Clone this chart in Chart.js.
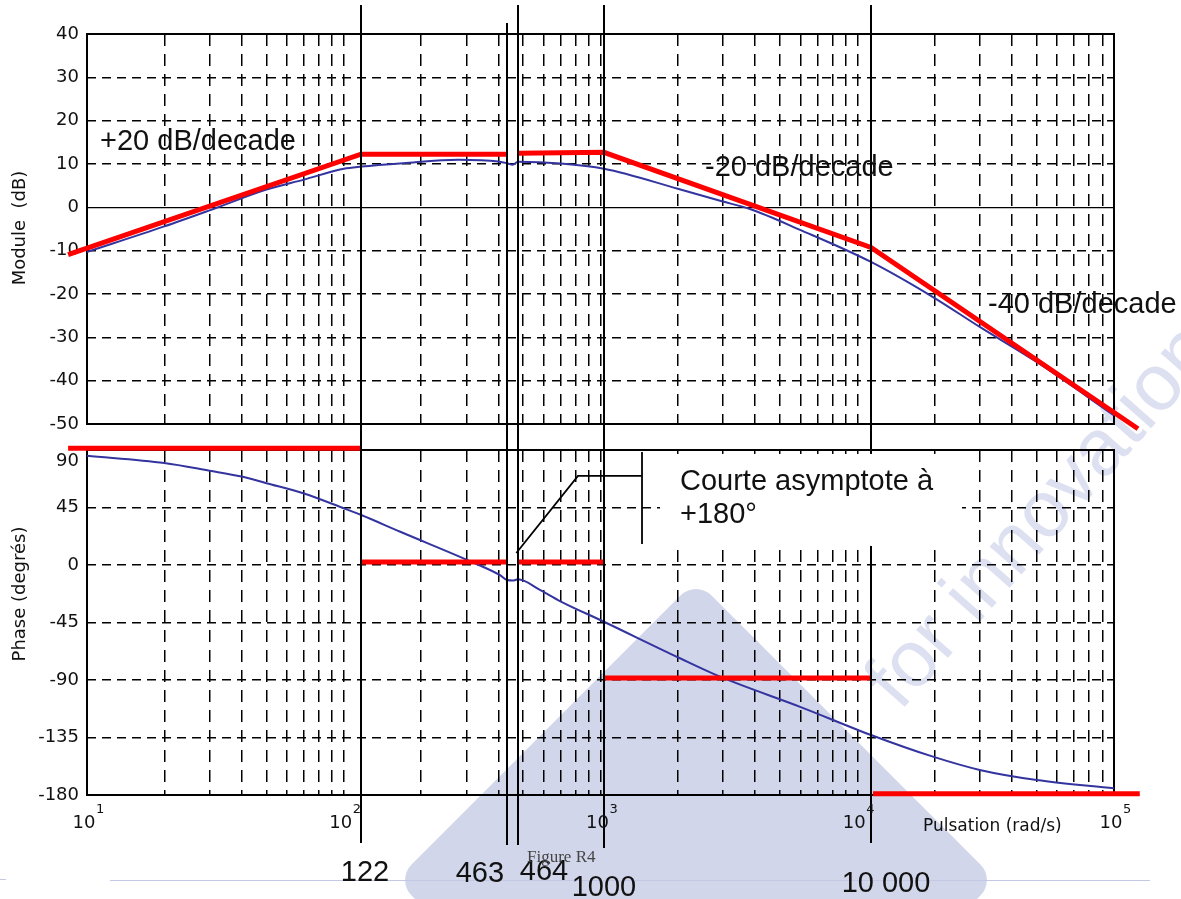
<!DOCTYPE html>
<html><head><meta charset="utf-8">
<script src="https://cdn.jsdelivr.net/npm/chart.js@4.4.1/dist/chart.umd.min.js"></script>
<style>
html,body{margin:0;padding:0;background:#fff;}
#wrap{position:relative;width:1181px;height:899px;overflow:hidden;background:#fff}
canvas{position:absolute;left:0;top:0}
</style>
</head><body>
<div id="wrap">
<canvas id="bg" width="1181" height="899"></canvas>
<canvas id="mag" width="1181" height="899"></canvas>
<canvas id="phase" width="1181" height="899"></canvas>
</div>
<script>
// ---------------- DATA ----------------
const magFreq = [10,20,30,50,70,100,117,170,280,400,432,455,477,700,1031,2000,2970,3820,5990,11310,19720,30000,50000,100000];
const magDb   = [-10.3,-4.4,-0.7,4.1,6.4,8.9,9.4,10.2,11.0,10.6,10.2,9.8,10.5,10.1,8.9,4.3,1.4,-0.4,-5.2,-12.6,-20.7,-27.6,-35.7,-48];

// Asymptotic magnitude (red), two pieces
const magAsymFreqA = [8.44, 116.7, 432];
const magAsymDbA   = [-10.9, 12.25, 12.25];
const magAsymFreqB = [477, 1031, 11310, 124000];
const magAsymDbB   = [12.5, 12.7, -9.25, -51.1];

// Real phase curve (blue)
const phaseFreq = [10,20,30,40,50,70,100,117,166,316,406,432,455,477,581,695,1031,2040,2970,5990,11310,19720,30000,50000,100000];
const phaseDeg  = [85.5,79.8,73.8,69.2,64,56,44.4,39.1,26,2.3,-8,-11.8,-12.2,-11.2,-19.5,-28.2,-44.4,-73,-88,-111,-133,-150,-160.4,-168.3,-174.8];

// Asymptotic phase (red), horizontal pieces
const phaseAsymStart = [8.44, 116.7, 477, 1031, 11520];
const phaseAsymEnd   = [116.7, 432, 1031, 11310, 126000];
const phaseAsymLevel = [91.3, 2.3, 2.3, -88.5, -179];

// Marked pulsations (vertical lines) and their labels
const markerFreq  = [116.7, 432, 477, 1031, 11310];
const markerLabel = ['122', '463', '464', '1000', '10 000'];

// Axis ticks
const magTickMin = -50, magTickMax = 40, magTickStep = 10;
const phaseTickMin = -180, phaseTickMax = 90, phaseTickStep = 45;
const decadeValues = [10, 100, 1000, 10000, 100000];
const decadeExpLabels = ['1', '2', '3', '4', '5'];
const gridMultipliers = [1,2,3,4,5,6,7,8,9];

// Texts
const slopeTexts = ['+20 dB/decade', '-20 dB/decade', '-40 dB/decade'];
const noteLines = ['Courte asymptote à', '+180°'];

// ---------------- BUILD ----------------
const gridFreq = [];
decadeValues.slice(0, 4).forEach(d => gridMultipliers.forEach(m => gridFreq.push(m * d)));
gridFreq.push(decadeValues[4]);

const pts = (xs, ys) => xs.map((x, i) => ({x, y: ys[i]}));

// Layout / style constants (pixels)
const AREA_LEFT = 87, AREA_RIGHT = 1114;
const MAG_TOP = 34, MAG_BOTTOM = 424;
const PH_TOP = 450, PH_BOTTOM = 795;
const W = 1181, H = 899;
const BLUE = '#3434a0', RED = '#ff0000';
const TICK_FONT = {family: '"DejaVu Sans", sans-serif', size: 18};
const BIG_FONT = '29px "Liberation Sans", Arial, sans-serif';
const MARKER_STYLE = {
  top:    [5, 23, 5, 5, 5],
  bottom: [843, 845, 845, 848, 843],
  labelDx:[4, -27, 26, 0, 15],
  labelY: [881, 882, 880, 896, 892]
};

function xAxis() {
  return {
    type: 'logarithmic', min: 10, max: 100000,
    afterBuildTicks: s => { s.ticks = gridFreq.map(v => ({value: v})); },
    ticks: {display: false},
    grid: {color: '#000', lineWidth: 1.5, drawTicks: false},
    border: {display: false, dash: [12, 8]},
    afterFit: s => { s.height = 0; }
  };
}

const frame = {
  id: 'frame',
  beforeDatasetsDraw(chart) {
    const {ctx, chartArea: a} = chart;
    ctx.save();
    ctx.strokeStyle = '#000'; ctx.lineWidth = 2;
    ctx.strokeRect(a.left, a.top, a.right - a.left, a.bottom - a.top);
    ctx.restore();
  }
};

function redLine(data) {
  return {data, borderColor: RED, borderWidth: 5, pointRadius: 0, clip: false, borderCapStyle: 'butt', tension: 0};
}

// ---------------- WATERMARK (background) ----------------
(function () {
  const c = document.getElementById('bg').getContext('2d');
  function roundPoly(p, r) {
    c.beginPath();
    const n = p.length;
    const m0 = [(p[n-1][0] + p[0][0]) / 2, (p[n-1][1] + p[0][1]) / 2];
    c.moveTo(m0[0], m0[1]);
    for (let i = 0; i < n; i++) {
      const a = p[i], b = p[(i + 1) % n];
      c.arcTo(a[0], a[1], b[0], b[1], r);
    }
    c.closePath();
  }
  c.fillStyle = '#d2d6ea';
  roundPoly([[696, 580], [996, 880], [696, 1180], [396, 880]], 22);
  c.fill();
  c.save();
  c.translate(900, 712);
  c.rotate(-48.5 * Math.PI / 180);
  c.fillStyle = '#dde0f0';
  c.font = '80px "Liberation Sans", Arial, sans-serif';
  c.fillText('for innovation', 0, 0);
  c.restore();
  // footer rule
  c.strokeStyle = '#c3c9e4'; c.lineWidth = 1;
  c.beginPath(); c.moveTo(110, 880.5); c.lineTo(1150, 880.5); c.stroke();
  c.beginPath(); c.moveTo(0, 879.5); c.lineTo(6, 879.5); c.stroke();
})();

// ---------------- MAGNITUDE CHART ----------------
const magChart = new Chart(document.getElementById('mag'), {
  type: 'line',
  data: {
    datasets: [
      redLine(pts(magAsymFreqA, magAsymDbA)),
      redLine(pts(magAsymFreqB, magAsymDbB)),
      {data: pts(magFreq, magDb), borderColor: BLUE, borderWidth: 2, pointRadius: 0, cubicInterpolationMode: 'monotone'}
    ]
  },
  options: {
    responsive: false, animation: false, devicePixelRatio: 1,
    layout: {padding: {left: 0, top: MAG_TOP, right: W - AREA_RIGHT, bottom: H - MAG_BOTTOM}},
    plugins: {legend: {display: false}, tooltip: {enabled: false}},
    scales: {
      x: xAxis(),
      y: {
        min: magTickMin, max: magTickMax,
        ticks: {stepSize: magTickStep, color: '#111', font: TICK_FONT, padding: 8},
        grid: {color: '#000', lineWidth: c => (c.tick && c.tick.value === 0) ? 1.2 : 1.5, drawTicks: false},
        border: {display: false, dash: c => (c.tick && c.tick.value === 0) ? [] : [9, 6]},
        afterFit: s => { s.width = AREA_LEFT; }
      }
    }
  },
  plugins: [frame]
});

// ---------------- PHASE CHART ----------------
const phaseRed = phaseAsymLevel.map((lv, i) => redLine([{x: phaseAsymStart[i], y: lv}, {x: phaseAsymEnd[i], y: lv}]));

const overlay = {
  id: 'overlay',
  afterDraw(chart) {
    const ctx = chart.ctx, xs = chart.scales.x, ys = chart.scales.y;
    ctx.save();
    // vertical marker lines
    ctx.strokeStyle = '#000'; ctx.lineWidth = 2;
    markerFreq.forEach((f, i) => {
      const x = Math.round(xs.getPixelForValue(f));
      ctx.beginPath(); ctx.moveTo(x, MARKER_STYLE.top[i]); ctx.lineTo(x, MARKER_STYLE.bottom[i]); ctx.stroke();
    });
    // white box behind the note
    const bx1 = xs.getPixelForValue(1705), bx2 = xs.getPixelForValue(25590);
    const by1 = ys.getPixelForValue(86.9), by2 = ys.getPixelForValue(14.9);
    ctx.fillStyle = '#fff';
    ctx.fillRect(bx1, by1, bx2 - bx1, by2 - by1);
    // pointer / bracket
    ctx.lineWidth = 1.8;
    ctx.beginPath();
    ctx.moveTo(xs.getPixelForValue(470), ys.getPixelForValue(9.4));
    ctx.lineTo(xs.getPixelForValue(817), ys.getPixelForValue(69.7));
    ctx.lineTo(xs.getPixelForValue(1451), ys.getPixelForValue(69.7));
    ctx.stroke();
    ctx.beginPath();
    ctx.moveTo(xs.getPixelForValue(1451), ys.getPixelForValue(88.4));
    ctx.lineTo(xs.getPixelForValue(1451), ys.getPixelForValue(16.4));
    ctx.stroke();

    // top phase label (drawn slightly below the frame, as in the source)
    ctx.fillStyle = '#111';
    ctx.font = '18px "DejaVu Sans", sans-serif'; ctx.textAlign = 'right'; ctx.textBaseline = 'middle';
    ctx.fillText(String(phaseTickMax), AREA_LEFT - 8, ys.getPixelForValue(phaseTickMax) + 11);
    ctx.textBaseline = 'alphabetic';

    // big texts
    ctx.font = BIG_FONT; ctx.textAlign = 'left';
    ctx.fillText(slopeTexts[0], 100, 150);
    ctx.fillText(slopeTexts[1], 705, 176);
    ctx.fillText(slopeTexts[2], 988, 313);
    ctx.fillText(noteLines[0], 680, 490);
    ctx.fillText(noteLines[1], 680, 523);

    // marker labels
    ctx.textAlign = 'center';
    markerFreq.forEach((f, i) => {
      const x = xs.getPixelForValue(f);
      ctx.fillText(markerLabel[i], x + MARKER_STYLE.labelDx[i], MARKER_STYLE.labelY[i]);
    });

    // x decade labels
    decadeValues.forEach((v, i) => {
      const x = xs.getPixelForValue(v);
      ctx.font = '18px "DejaVu Sans", sans-serif'; ctx.textAlign = 'center';
      ctx.fillText('10', x - 3, 828);
      ctx.font = '13px "DejaVu Sans", sans-serif'; ctx.textAlign = 'left';
      ctx.fillText(decadeExpLabels[i], x + 9, 813);
    });
    ctx.font = '17px "DejaVu Sans", sans-serif'; ctx.textAlign = 'left';
    ctx.fillText('Pulsation (rad/s)', 923, 831);

    // axis titles
    ctx.font = '18px "DejaVu Sans", sans-serif';
    ctx.textAlign = 'center';
    ctx.save(); ctx.translate(25, 228); ctx.rotate(-Math.PI / 2);
    ctx.fillText('Module  (dB)', 0, 0); ctx.restore();
    ctx.save(); ctx.translate(25, 594); ctx.rotate(-Math.PI / 2);
    ctx.fillText('Phase (degrés)', 0, 0); ctx.restore();

    // caption
    ctx.fillStyle = '#444';
    ctx.font = '17px "Liberation Serif", "DejaVu Serif", serif'; ctx.textAlign = 'left';
    ctx.fillText('Figure R4', 527, 862);
    ctx.restore();
  }
};

const phaseChart = new Chart(document.getElementById('phase'), {
  type: 'line',
  data: {
    datasets: [
      ...phaseRed,
      {data: pts(phaseFreq, phaseDeg), borderColor: BLUE, borderWidth: 2, pointRadius: 0, cubicInterpolationMode: 'monotone'}
    ]
  },
  options: {
    responsive: false, animation: false, devicePixelRatio: 1,
    layout: {padding: {left: 0, top: PH_TOP, right: W - AREA_RIGHT, bottom: H - PH_BOTTOM}},
    plugins: {legend: {display: false}, tooltip: {enabled: false}},
    scales: {
      x: xAxis(),
      y: {
        min: phaseTickMin, max: phaseTickMax,
        ticks: {stepSize: phaseTickStep, color: '#111', font: TICK_FONT, padding: 8,
                callback: v => (v === phaseTickMax ? '' : String(v))},
        grid: {color: '#000', lineWidth: 1.5, drawTicks: false},
        border: {display: false, dash: [9, 6]},
        afterFit: s => { s.width = AREA_LEFT; }
      }
    }
  },
  plugins: [frame, overlay]
});
</script>
</body></html>
